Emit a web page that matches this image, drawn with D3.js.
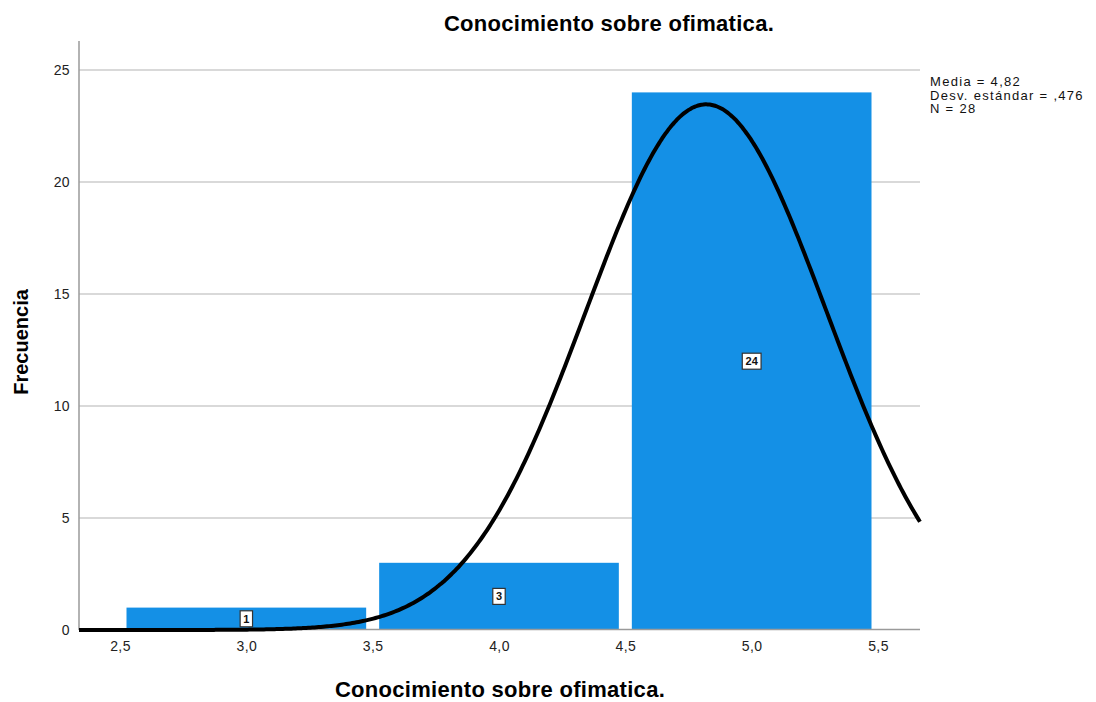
<!DOCTYPE html>
<html><head><meta charset="utf-8">
<script src="https://cdn.jsdelivr.net/npm/d3@7"></script>
<style>body{margin:0;background:#fff;font-family:"Liberation Sans",Arial,sans-serif}</style>
</head><body><svg id="c" width="1096" height="702"></svg>
<script>
const binStarts = [2.5, 3.5, 4.5];
const binEnds = [3.5, 4.5, 5.5];
const counts = [1, 3, 24];
const xTicks = [2.5, 3.0, 3.5, 4.0, 4.5, 5.0, 5.5];
const yTicks = [0, 5, 10, 15, 20, 25];
const mean = 4.82, sd = 0.476, N = 28;
const statsLines = ["Media = 4,82", "Desv. estándar = ,476", "N = 28"];
const title = "Conocimiento sobre ofimatica.";
const xTitle = "Conocimiento sobre ofimatica.";
const yTitle = "Frecuencia";

const svg = d3.select("#c");
const L = 79, R = 920, T = 41, B = 630;
const x = d3.scaleLinear().domain([2.5, 5.5]).range([120, 878]);
const y = d3.scaleLinear().domain([0, 25]).range([B, 70]);
const fmt = d => d.toFixed(1).replace(".", ",");

// gridlines
svg.append("g").selectAll("line").data(yTicks.filter(d => d > 0)).join("line")
  .attr("x1", L).attr("x2", R).attr("y1", d => y(d)).attr("y2", d => y(d))
  .attr("stroke", "#cccccc").attr("stroke-width", 1.5);

// bars
const gap = 6.5;
svg.append("g").selectAll("rect").data(counts).join("rect")
  .attr("x", (d, i) => x(binStarts[i]) + gap)
  .attr("width", (d, i) => x(binEnds[i]) - x(binStarts[i]) - 2 * gap)
  .attr("y", d => y(d)).attr("height", d => B - y(d))
  .attr("fill", "#1490e6");

// axes
const yAxis = svg.append("g").attr("transform", `translate(${L},0)`)
  .call(d3.axisLeft(y).tickValues(yTicks).tickSize(0).tickPadding(9).tickFormat(d3.format("d")));
yAxis.select(".domain").remove();
yAxis.selectAll("text").attr("font-size", 14).attr("letter-spacing", 0.4).attr("fill", "#222").attr("font-family", "Liberation Sans, Arial");
svg.append("line").attr("x1", L).attr("x2", L).attr("y1", T).attr("y2", B).attr("stroke", "#9a9a9a").attr("stroke-width", 1.5);

const xAxis = svg.append("g").attr("transform", `translate(0,${B})`)
  .call(d3.axisBottom(x).tickValues(xTicks).tickSize(0).tickPadding(11).tickFormat(fmt));
xAxis.select(".domain").remove();
xAxis.selectAll("text").attr("font-size", 14).attr("letter-spacing", 0.4).attr("fill", "#222").attr("font-family", "Liberation Sans, Arial");
svg.append("line").attr("x1", L).attr("x2", R).attr("y1", B - 0.5).attr("y2", B - 0.5).attr("stroke", "#9a9a9a").attr("stroke-width", 1.5);

// normal curve
const x0 = x.invert(L), x1 = x.invert(R);
const pts = d3.range(0, 401).map(i => {
  const v = x0 + (x1 - x0) * i / 400;
  const f = N * 1 / (sd * Math.sqrt(2 * Math.PI)) * Math.exp(-0.5 * ((v - mean) / sd) ** 2);
  return [v, f];
});
svg.append("path").datum(pts)
  .attr("d", d3.line().x(d => x(d[0])).y(d => y(d[1])).curve(d3.curveBasis))
  .attr("fill", "none").attr("stroke", "#000").attr("stroke-width", 4);

// value labels
const lg = svg.append("g").selectAll("g").data(counts).join("g")
  .attr("transform", (d, i) => `translate(${x((binStarts[i] + binEnds[i]) / 2)},${y(d / 2)})`);
lg.append("rect").attr("x", d => -(String(d).length * 3.2 + 3)).attr("y", -8)
  .attr("width", d => String(d).length * 6.4 + 6).attr("height", 16)
  .attr("fill", "#fff").attr("stroke", "#333").attr("stroke-width", 1.2);
lg.append("text").attr("text-anchor", "middle").attr("dy", "0.35em")
  .attr("font-size", 11).attr("font-weight", "bold").attr("fill", "#111").text(d => d);

// stats
svg.append("g").selectAll("text").data(statsLines).join("text")
  .attr("x", 930).attr("y", (d, i) => 86 + i * 13.5)
  .attr("font-size", 13).attr("letter-spacing", 1.3).attr("fill", "#111").text(d => d);

// titles
svg.append("text").attr("x", 609).attr("y", 31).attr("text-anchor", "middle")
  .attr("font-size", 22).attr("font-weight", "bold").attr("letter-spacing", 0.3).text(title);
svg.append("text").attr("x", 500).attr("y", 697).attr("text-anchor", "middle")
  .attr("font-size", 22).attr("font-weight", "bold").attr("letter-spacing", 0.3).text(xTitle);
svg.append("text").attr("transform", "translate(28,342) rotate(-90)").attr("text-anchor", "middle")
  .attr("font-size", 20).attr("font-weight", "bold").text(yTitle);
</script></body></html>
